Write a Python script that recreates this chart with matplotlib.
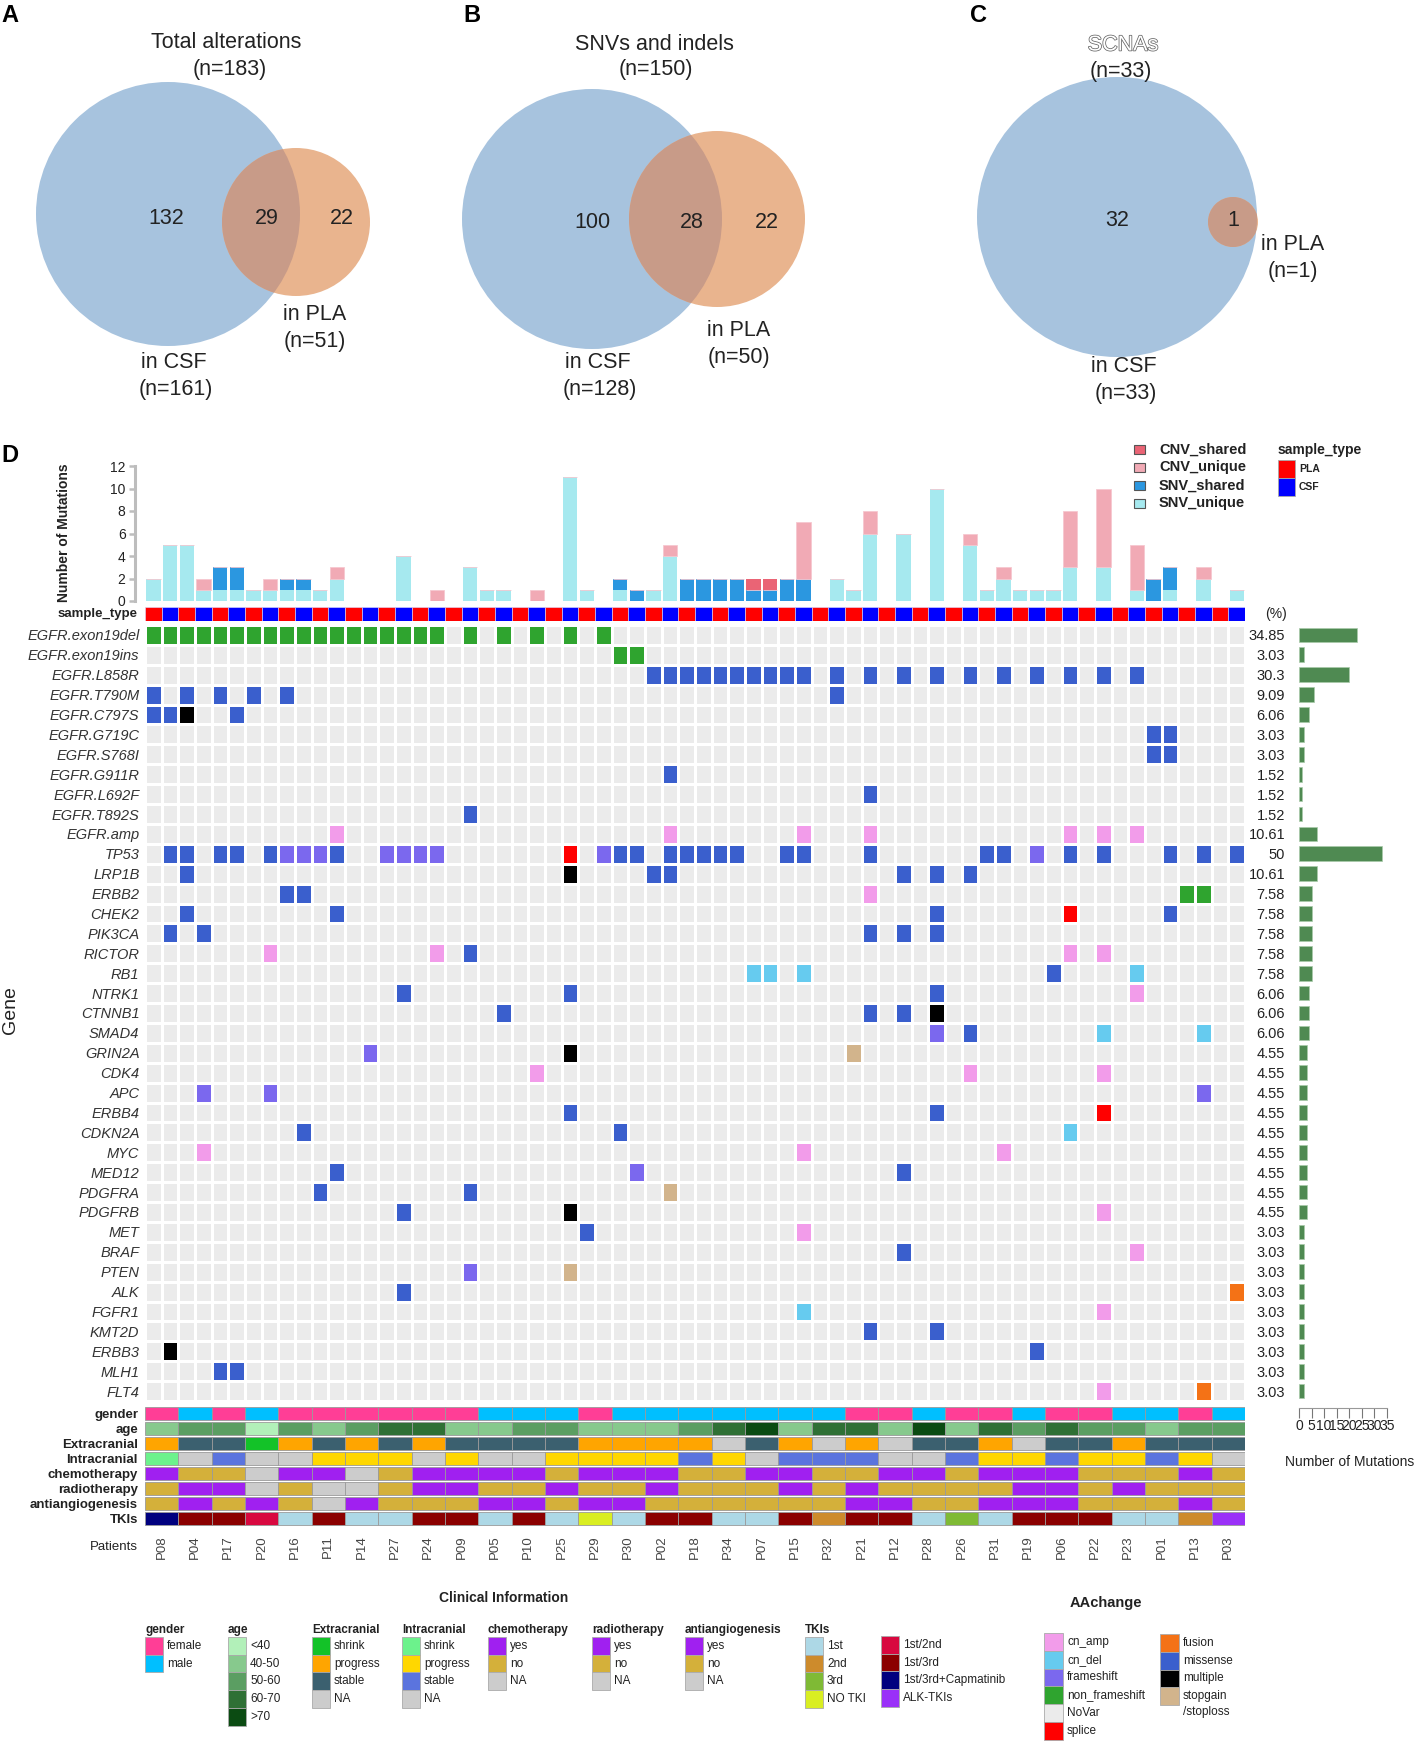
import matplotlib
matplotlib.use("Agg")
import matplotlib.pyplot as plt
import matplotlib.patheffects as pe
from matplotlib.colors import ListedColormap
from matplotlib.patches import Circle, Rectangle
import numpy as np

plt.rcParams["font.family"] = ["Liberation Sans", "DejaVu Sans"]

# ---------------- data ----------------
# Venn panels A-C
venn_titles = ["Total alterations", "SNVs and indels", "SCNAs"]
venn_csf_only = [132, 100, 32]
venn_shared = [29, 28, 1]
venn_pla_only = [22, 22, 0]

# samples: each patient has a PLA and a CSF sample (66 columns)
patients = ["P08", "P04", "P17", "P20", "P16", "P11", "P14", "P27", "P24", "P09",
            "P05", "P10", "P25", "P29", "P30", "P02", "P18", "P34", "P07", "P15",
            "P32", "P21", "P12", "P28", "P26", "P31", "P19", "P06", "P22", "P23",
            "P01", "P13", "P03"]
sample_type = [t for _ in patients for t in ("PLA", "CSF")]

# number of mutations per sample (stacked bars)
snv_unique = [2, 5, 5, 1, 1, 1, 1, 1, 1, 1,
              1, 2, 0, 0, 0, 4, 0, 0, 0, 3,
              1, 1, 0, 0, 0, 11, 1, 0, 1, 0,
              1, 4, 0, 0, 0, 0, 0, 0, 0, 0,
              0, 2, 1, 6, 0, 6, 0, 10, 0, 5,
              1, 2, 1, 1, 1, 3, 0, 3, 0, 1,
              0, 1, 0, 2, 0, 1]
snv_shared = [0, 0, 0, 0, 2, 2, 0, 0, 1, 1,
              0, 0, 0, 0, 0, 0, 0, 0, 0, 0,
              0, 0, 0, 0, 0, 0, 0, 0, 1, 1,
              0, 0, 2, 2, 2, 2, 1, 1, 2, 2,
              0, 0, 0, 0, 0, 0, 0, 0, 0, 0,
              0, 0, 0, 0, 0, 0, 0, 0, 0, 0,
              2, 2, 0, 0, 0, 0]
cnv_unique = [0, 0, 0, 1, 0, 0, 0, 1, 0, 0,
              0, 1, 0, 0, 0, 0, 0, 1, 0, 0,
              0, 0, 0, 1, 0, 0, 0, 0, 0, 0,
              0, 1, 0, 0, 0, 0, 0, 0, 0, 5,
              0, 0, 0, 2, 0, 0, 0, 0, 0, 1,
              0, 1, 0, 0, 0, 5, 0, 7, 0, 4,
              0, 0, 0, 1, 0, 0]
cnv_shared = [0] * 36 + [1, 1] + [0] * 28

genes = ["EGFR.exon19del", "EGFR.exon19ins", "EGFR.L858R", "EGFR.T790M", "EGFR.C797S",
         "EGFR.G719C", "EGFR.S768I", "EGFR.G911R", "EGFR.L692F", "EGFR.T892S",
         "EGFR.amp", "TP53", "LRP1B", "ERBB2", "CHEK2", "PIK3CA", "RICTOR", "RB1",
         "NTRK1", "CTNNB1", "SMAD4", "GRIN2A", "CDK4", "APC", "ERBB4", "CDKN2A",
         "MYC", "MED12", "PDGFRA", "PDGFRB", "MET", "BRAF", "PTEN", "ALK", "FGFR1",
         "KMT2D", "ERBB3", "MLH1", "FLT4"]

# (gene, alteration type, sample columns)
alterations = [
    ("EGFR.exon19del", "non_frameshift", list(range(18)) + [19, 21, 23, 25, 27]),
    ("EGFR.exon19ins", "non_frameshift", [28, 29]),
    ("EGFR.L858R", "missense", list(range(30, 40)) + [41, 43, 45, 47, 49, 51, 53, 55, 57, 59]),
    ("EGFR.T790M", "missense", [0, 2, 4, 6, 8, 41]),
    ("EGFR.C797S", "missense", [0, 1, 5]),
    ("EGFR.C797S", "multiple", [2]),
    ("EGFR.G719C", "missense", [60, 61]),
    ("EGFR.S768I", "missense", [60, 61]),
    ("EGFR.G911R", "missense", [31]),
    ("EGFR.L692F", "missense", [43]),
    ("EGFR.T892S", "missense", [19]),
    ("EGFR.amp", "cn_amp", [11, 31, 39, 43, 55, 57, 59]),
    ("TP53", "missense", [1, 2, 4, 5, 7, 11, 28, 29, 31, 32, 33, 34, 35, 38, 39, 43,
                          50, 51, 55, 57, 61, 63, 65]),
    ("TP53", "frameshift", [8, 9, 10, 14, 15, 16, 17, 27, 53]),
    ("TP53", "splice", [25]),
    ("LRP1B", "missense", [2, 30, 31, 45, 47, 49]),
    ("LRP1B", "multiple", [25]),
    ("ERBB2", "missense", [8, 9]),
    ("ERBB2", "cn_amp", [43]),
    ("ERBB2", "non_frameshift", [62, 63]),
    ("CHEK2", "missense", [2, 11, 47, 61]),
    ("CHEK2", "splice", [55]),
    ("PIK3CA", "missense", [1, 3, 43, 45, 47]),
    ("RICTOR", "cn_amp", [7, 17, 55, 57]),
    ("RICTOR", "missense", [19]),
    ("RB1", "cn_del", [36, 37, 39, 59]),
    ("RB1", "missense", [54]),
    ("NTRK1", "missense", [15, 25, 47]),
    ("NTRK1", "cn_amp", [59]),
    ("CTNNB1", "missense", [21, 43, 45]),
    ("CTNNB1", "multiple", [47]),
    ("SMAD4", "frameshift", [47]),
    ("SMAD4", "missense", [49]),
    ("SMAD4", "cn_del", [57, 63]),
    ("GRIN2A", "frameshift", [13]),
    ("GRIN2A", "multiple", [25]),
    ("GRIN2A", "stopgain", [42]),
    ("CDK4", "cn_amp", [23, 49, 57]),
    ("APC", "frameshift", [3, 7, 63]),
    ("ERBB4", "missense", [25, 47]),
    ("ERBB4", "splice", [57]),
    ("CDKN2A", "missense", [9, 28]),
    ("CDKN2A", "cn_del", [55]),
    ("MYC", "cn_amp", [3, 39, 51]),
    ("MED12", "missense", [11, 45]),
    ("MED12", "frameshift", [29]),
    ("PDGFRA", "missense", [10, 19]),
    ("PDGFRA", "stopgain", [31]),
    ("PDGFRB", "missense", [15]),
    ("PDGFRB", "multiple", [25]),
    ("PDGFRB", "cn_amp", [57]),
    ("MET", "missense", [26]),
    ("MET", "cn_amp", [39]),
    ("BRAF", "missense", [45]),
    ("BRAF", "cn_amp", [59]),
    ("PTEN", "frameshift", [19]),
    ("PTEN", "stopgain", [25]),
    ("ALK", "missense", [15]),
    ("ALK", "fusion", [65]),
    ("FGFR1", "cn_del", [39]),
    ("FGFR1", "cn_amp", [57]),
    ("KMT2D", "missense", [43, 47]),
    ("ERBB3", "multiple", [1]),
    ("ERBB3", "missense", [53]),
    ("MLH1", "missense", [4, 5]),
    ("FLT4", "cn_amp", [57]),
    ("FLT4", "fusion", [63]),
]

# clinical information, one value per patient
gender = ["female", "male", "female", "male", "female", "female", "female", "female",
          "female", "female", "male", "male", "male", "female", "male", "male", "male",
          "male", "male", "male", "male", "female", "female", "male", "female", "female",
          "male", "female", "female", "male", "male", "female", "male"]
age = ["40-50", "50-60", "50-60", "<40", "50-60", "40-50", "50-60", "60-70", "60-70",
       "40-50", "40-50", "50-60", "50-60", "40-50", "40-50", "40-50", "50-60", "60-70",
       ">70", "40-50", "60-70", "60-70", "40-50", ">70", "40-50", "60-70", "50-60",
       "60-70", "50-60", "50-60", "40-50", "50-60", "50-60"]
extracranial = ["progress", "stable", "stable", "shrink", "progress", "stable", "progress",
                "stable", "progress", "stable", "stable", "stable", "stable", "progress",
                "progress", "progress", "progress", "NA", "stable", "progress", "NA",
                "progress", "NA", "stable", "stable", "progress", "NA", "stable", "stable",
                "progress", "stable", "stable", "stable"]
intracranial = ["shrink", "NA", "stable", "NA", "NA", "progress", "progress", "progress",
                "NA", "progress", "NA", "NA", "progress", "progress", "progress", "progress",
                "stable", "progress", "NA", "stable", "stable", "stable", "NA", "NA",
                "stable", "progress", "progress", "stable", "progress", "progress",
                "stable", "progress", "NA"]
chemotherapy = ["yes", "no", "no", "NA", "yes", "yes", "NA", "no", "yes", "yes", "yes",
                "yes", "no", "yes", "yes", "yes", "no", "no", "yes", "yes", "no", "no",
                "yes", "yes", "no", "yes", "yes", "yes", "no", "no", "no", "yes", "no"]
radiotherapy = ["no", "yes", "yes", "NA", "no", "NA", "NA", "no", "yes", "yes", "no", "no",
                "yes", "no", "no", "yes", "no", "no", "no", "yes", "no", "yes", "no", "no",
                "no", "no", "yes", "yes", "no", "yes", "no", "no", "no"]
antiangiogenesis = ["no", "yes", "no", "yes", "no", "NA", "yes", "no", "no", "no", "yes",
                    "yes", "no", "yes", "yes", "no", "no", "no", "no", "no", "no", "yes",
                    "yes", "no", "no", "yes", "yes", "yes", "no", "no", "no", "yes", "no"]
tkis = ["1st/3rd+Capmatinib", "1st/3rd", "1st/3rd", "1st/2nd", "1st", "1st/3rd", "1st",
        "1st", "1st/3rd", "1st/3rd", "1st", "1st/3rd", "1st", "NO TKI", "1st", "1st/3rd",
        "1st/3rd", "1st", "1st", "1st/3rd", "2nd", "1st/3rd", "1st/3rd", "1st", "3rd",
        "1st", "1st/3rd", "1st/3rd", "1st/3rd", "1st", "1st", "2nd", "ALK-TKIs"]

# ---------------- colours ----------------
aa_types = ["NoVar", "cn_amp", "cn_del", "frameshift", "non_frameshift", "splice",
            "fusion", "missense", "multiple", "stopgain"]
aa_colors = ["#EBEBEB", "#F29CEA", "#66CBEF", "#7B68EE", "#2FA42F", "#FF0000",
             "#F47216", "#3A5FCD", "#000000", "#D2B48C"]
aa_color = dict(zip(aa_types, aa_colors))

bar_colors = {"SNV_unique": "#A6E9EF", "SNV_shared": "#2B97E0",
              "CNV_unique": "#F1AAB5", "CNV_shared": "#EA6475"}
sample_colors = {"PLA": "#FF0000", "CSF": "#0000FF"}
gender_colors = {"female": "#FF3E96", "male": "#00BFFF"}
age_colors = {"<40": "#B2F0B9", "40-50": "#87C98D", "50-60": "#5B9E62",
              "60-70": "#2F7035", ">70": "#0B4B12"}
extra_colors = {"shrink": "#13C228", "progress": "#FFA500", "stable": "#3B606F", "NA": "#CCCCCC"}
intra_colors = {"shrink": "#6CF28C", "progress": "#FFD700", "stable": "#5B74DE", "NA": "#CCCCCC"}
yesno_colors = {"yes": "#A020F0", "no": "#D4B03A", "NA": "#CCCCCC"}
tki_colors = {"1st": "#ADD8E6", "2nd": "#CD8B2C", "3rd": "#7FBA35", "NO TKI": "#D9EE22",
              "1st/2nd": "#D8083F", "1st/3rd": "#8B0000", "1st/3rd+Capmatinib": "#00007F",
              "ALK-TKIs": "#9A30F8"}

CSF_BLUE = "#A7C3DE"
PLA_ORANGE = "#E9B48E"
OVERLAP = "#C89B88"

# ---------------- figure ----------------
W, H, DPI = 1418, 1741, 100
fig = plt.figure(figsize=(W / DPI, H / DPI), dpi=DPI)


def px_axes(x0, y0, x1, y1):
    """Axes placed by pixel box (top-left origin)."""
    return fig.add_axes([x0 / W, 1 - y1 / H, (x1 - x0) / W, (y1 - y0) / H])


canvas = px_axes(0, 0, W, H)
canvas.set_xlim(0, W)
canvas.set_ylim(H, 0)
canvas.axis("off")

TXT = "#222222"

# panel letters
for letter, x, y in [("A", 1, 16), ("B", 463, 16), ("C", 970, 16), ("D", 1, 455)]:
    canvas.text(x, y, letter, fontsize=17, fontweight="bold", ha="left", va="center")

# ---------------- Venn diagrams ----------------
venn_big = [(168, 214, 132), (592, 219, 130), (1117, 217, 140)]
venn_small = [(296, 222, 74), (717, 219, 88), (1233, 222, 25)]
venn_num_x = [(166, 267, 342), (592, 692, 767), (1117, 1233, None)]
venn_title_xy = [(226, 43), (654, 44), (1123, 45)]
venn_n_xy = [(230, 69), (656, 70), (1121, 71)]
venn_pla_xy = [(315, 315), (739, 331), (1293, 245)]
venn_csf_xy = [(174, 362), (598, 362), (1124, 367)]

for i in range(3):
    cx, cy, r = venn_big[i]
    sx, sy, sr = venn_small[i]
    big = Circle((cx, cy), r, fc=CSF_BLUE, ec="none", zorder=1)
    canvas.add_patch(big)
    canvas.add_patch(Circle((sx, sy), sr, fc=PLA_ORANGE, ec="none", zorder=2))
    ov = Circle((sx, sy), sr, fc=OVERLAP, ec="none", zorder=3)
    canvas.add_patch(ov)
    ov.set_clip_path(big)

    total = venn_csf_only[i] + venn_shared[i] + venn_pla_only[i]
    n_csf = venn_csf_only[i] + venn_shared[i]
    n_pla = venn_shared[i] + venn_pla_only[i]

    tx, ty = venn_title_xy[i]
    kw = dict(fontsize=15.5, ha="center", va="center", color=TXT)
    if i == 2:
        canvas.text(tx, ty, venn_titles[i], color="white", fontsize=15.5, ha="center",
                    va="center", path_effects=[pe.withStroke(linewidth=1.1, foreground="#666666")])
    else:
        canvas.text(tx, ty, venn_titles[i], **kw)
    canvas.text(*venn_n_xy[i], f"(n={total})", **kw)

    ny = cy + 4 if i else cy + 5
    xs = venn_num_x[i]
    canvas.text(xs[0], ny, str(venn_csf_only[i]), zorder=5, **kw)
    canvas.text(xs[1], ny, str(venn_shared[i]), zorder=5, **kw)
    if venn_pla_only[i]:
        canvas.text(xs[2], ny, str(venn_pla_only[i]), zorder=5, **kw)

    px, py = venn_pla_xy[i]
    canvas.text(px, py, "in PLA", zorder=5, **kw)
    canvas.text(px, py + 27, f"(n={n_pla})", zorder=5, **kw)
    qx, qy = venn_csf_xy[i]
    canvas.text(qx, qy, "in CSF", zorder=5, **kw)
    canvas.text(qx + 2, qy + 27, f"(n={n_csf})", zorder=5, **kw)

# ---------------- oncoprint ----------------
MX0, MX1 = 145, 1245
n_samples = len(sample_type)
xc = np.arange(n_samples) + 0.5

# stacked bar chart of mutation counts
axb = px_axes(MX0, 466, MX1, 601)
bottom = np.zeros(n_samples)
for name, vals in [("SNV_unique", snv_unique), ("SNV_shared", snv_shared),
                   ("CNV_unique", cnv_unique), ("CNV_shared", cnv_shared)]:
    vals = np.array(vals)
    if name == "CNV_unique":
        axb.bar(xc, vals, 0.86, bottom=bottom, color=bar_colors[name],
                edgecolor="#F6C8D0", linewidth=0.6)
    else:
        axb.bar(xc, vals, 0.86, bottom=bottom, color=bar_colors[name], linewidth=0)
    bottom += vals
axb.set_xlim(0, n_samples)
axb.set_ylim(0, 12)
axb.set_yticks(range(0, 13, 2))
axb.set_xticks([])
for s in ["top", "right", "bottom"]:
    axb.spines[s].set_visible(False)
axb.spines["left"].set_color("#BDBDBD")
axb.spines["left"].set_linewidth(2.2)
axb.spines["left"].set_position(("outward", 7))
axb.tick_params(axis="y", colors="#BDBDBD", width=1.8, length=4, pad=3,
                labelsize=10, labelcolor=TXT)
axb.patch.set_visible(False)
canvas.text(64, 533, "Number of Mutations", rotation=90, fontsize=10, fontweight="bold",
            ha="center", va="center", color=TXT)

# sample type row
axs = px_axes(MX0, 607, MX1, 621)
axs.bar(xc, 1, 1, color=[sample_colors[t] for t in sample_type], edgecolor="#DDDDFF",
        linewidth=0.4)
axs.set_xlim(0, n_samples)
axs.set_ylim(0, 1)
axs.axis("off")
canvas.text(138, 614, "sample_type", fontsize=9.5, fontweight="bold", ha="right",
            va="center", color=TXT)
canvas.text(1287, 614, "(%)", fontsize=10, ha="right", va="center", color=TXT)

# alteration matrix
gene_idx = {g: i for i, g in enumerate(genes)}
codes = np.zeros((len(genes), n_samples), dtype=int)
for gene, kind, cols in alterations:
    codes[gene_idx[gene], cols] = aa_types.index(kind)

axm = px_axes(MX0, 625, MX1, 1401)
axm.pcolormesh(np.arange(n_samples + 1), np.arange(len(genes) + 1), codes,
               cmap=ListedColormap(aa_colors), vmin=-0.5, vmax=len(aa_types) - 0.5,
               edgecolors="white", linewidth=0.8)
axm.set_xlim(0, n_samples)
axm.set_ylim(len(genes), 0)
axm.set_xticks([])
axm.set_yticks(np.arange(len(genes)) + 0.5)
axm.set_yticklabels(genes, fontsize=10.5, fontstyle="italic", color="#333333")
axm.tick_params(axis="y", length=0, pad=4)
for s in axm.spines.values():
    s.set_visible(False)
canvas.text(11, 1010, "Gene", rotation=90, fontsize=14, ha="center", va="center", color=TXT)

# frequency bars on the right
counts = (codes > 0).sum(axis=1)
pct = [f"{round(c / n_samples * 100, 2):g}" for c in counts]
axf = px_axes(1299, 625, 1387, 1401)
axf.barh(np.arange(len(genes)) + 0.5, counts, 0.74, color="#4F8A52",
         edgecolor="#A9CBAA", linewidth=0.5)
axf.set_ylim(len(genes), 0)
axf.set_xlim(0, 35)
axf.set_yticks(np.arange(len(genes)) + 0.5)
axf.set_yticklabels(pct, fontsize=10.5, color=TXT)
axf.tick_params(axis="y", length=0, pad=10)
axf.set_xticks(range(0, 36, 5))
axf.set_xticklabels([str(v) for v in range(0, 36, 5)], rotation=90, fontsize=7.5)
axf.tick_params(axis="x", length=7, width=0.8, colors="#777777", labelcolor=TXT, pad=1)
for s in ["top", "right", "left"]:
    axf.spines[s].set_visible(False)
axf.spines["bottom"].set_position(("outward", 5))
axf.spines["bottom"].set_color("#999999")
axf.patch.set_visible(False)
canvas.text(1350, 1462, "Number of Mutations", fontsize=10, ha="center", va="center", color=TXT)

# clinical tracks
tracks = [("gender", gender, gender_colors), ("age", age, age_colors),
          ("Extracranial", extracranial, extra_colors),
          ("Intracranial", intracranial, intra_colors),
          ("chemotherapy", chemotherapy, yesno_colors),
          ("radiotherapy", radiotherapy, yesno_colors),
          ("antiangiogenesis", antiangiogenesis, yesno_colors),
          ("TKIs", tkis, tki_colors)]
axc = px_axes(MX0, 1406, MX1, 1526)
pc = np.arange(len(patients)) * 2 + 1
for r, (name, vals, cmap) in enumerate(tracks):
    axc.bar(pc, 0.84, 2, bottom=r + 0.08, color=[cmap[v] for v in vals],
            edgecolor="#9A9A9A", linewidth=0.6)
axc.set_xlim(0, n_samples)
axc.set_ylim(len(tracks), 0)
axc.set_yticks(np.arange(len(tracks)) + 0.5)
axc.set_yticklabels([t[0] for t in tracks], fontsize=9.5, fontweight="bold", color=TXT)
axc.set_xticks(pc)
axc.set_xticklabels(patients, rotation=90, fontsize=9.5, color="#444444")
axc.tick_params(axis="y", length=0, pad=5)
axc.tick_params(axis="x", length=0, pad=6.5)
for s in axc.spines.values():
    s.set_visible(False)
canvas.text(138, 1547, "Patients", fontsize=9.5, ha="right", va="center", color=TXT)

# ---------------- legends ----------------
# top right: bar series and sample type
for k, name in enumerate(["CNV_shared", "CNV_unique", "SNV_shared", "SNV_unique"]):
    yc = 449.5 + 18 * k
    canvas.add_patch(Rectangle((1134, yc - 4.5), 11, 9, fc=bar_colors[name],
                               ec="#555555", lw=0.8))
    canvas.text(1159, yc, name, fontsize=10.5, fontweight="bold", ha="left",
                va="center", color=TXT)
canvas.text(1278, 450, "sample_type", fontsize=10, fontweight="bold", ha="left",
            va="center", color=TXT)
for k, name in enumerate(["PLA", "CSF"]):
    y0 = 460 + 18 * k
    canvas.add_patch(Rectangle((1278, y0), 17, 18, fc=sample_colors[name], ec="#AAAAAA", lw=0.6))
    canvas.text(1299, y0 + 9, name, fontsize=7.5, fontweight="bold", ha="left",
                va="center", color=TXT)


def legend_block(x, y_title, y0, title, labels, cmap, sq_w=18, sq_h=17.7):
    if title:
        canvas.text(x, y_title, title, fontsize=8.5, fontweight="bold", ha="left",
                    va="center", color=TXT)
    for k, lab in enumerate(labels):
        yy = y0 + k * sq_h
        canvas.add_patch(Rectangle((x, yy), sq_w, sq_h, fc=cmap[lab], ec="#AAAAAA", lw=0.6))
        canvas.text(x + sq_w + 4, yy + sq_h / 2, lab, fontsize=8.5, ha="left",
                    va="center", color=TXT)


canvas.text(504, 1598, "Clinical Information", fontsize=10, fontweight="bold",
            ha="center", va="center", color=TXT)
legend_block(145, 1630, 1637, "gender", ["female", "male"], gender_colors)
legend_block(228, 1630, 1637, "age", ["<40", "40-50", "50-60", "60-70", ">70"], age_colors)
legend_block(312, 1630, 1637, "Extracranial", ["shrink", "progress", "stable", "NA"], extra_colors)
legend_block(402, 1630, 1637, "Intracranial", ["shrink", "progress", "stable", "NA"], intra_colors)
legend_block(488, 1630, 1637, "chemotherapy", ["yes", "no", "NA"], yesno_colors)
legend_block(592, 1630, 1637, "radiotherapy", ["yes", "no", "NA"], yesno_colors)
legend_block(685, 1630, 1637, "antiangiogenesis", ["yes", "no", "NA"], yesno_colors)
legend_block(805, 1630, 1637, "TKIs", ["1st", "2nd", "3rd", "NO TKI"], tki_colors)
legend_block(881, 1630, 1636, None, ["1st/2nd", "1st/3rd", "1st/3rd+Capmatinib", "ALK-TKIs"],
             tki_colors)

canvas.text(1106, 1603, "AAchange", fontsize=10.5, fontweight="bold", ha="center",
            va="center", color=TXT)
legend_block(1044, None, 1633, None,
             ["cn_amp", "cn_del", "frameshift", "non_frameshift", "NoVar", "splice"],
             aa_color, sq_w=19, sq_h=17.8)
legend_block(1160, None, 1634, None, ["fusion", "missense", "multiple"], aa_color,
             sq_w=19, sq_h=17.8)
canvas.add_patch(Rectangle((1160, 1634 + 3 * 17.8), 19, 17.8, fc=aa_color["stopgain"],
                           ec="#AAAAAA", lw=0.6))
canvas.text(1183, 1634 + 3.5 * 17.8, "stopgain", fontsize=8.5, ha="left", va="center", color=TXT)
canvas.text(1183, 1634 + 4.5 * 17.8 - 2, "/stoploss", fontsize=8.5, ha="left", va="center",
            color=TXT)

fig.savefig("out.png", dpi=DPI)
